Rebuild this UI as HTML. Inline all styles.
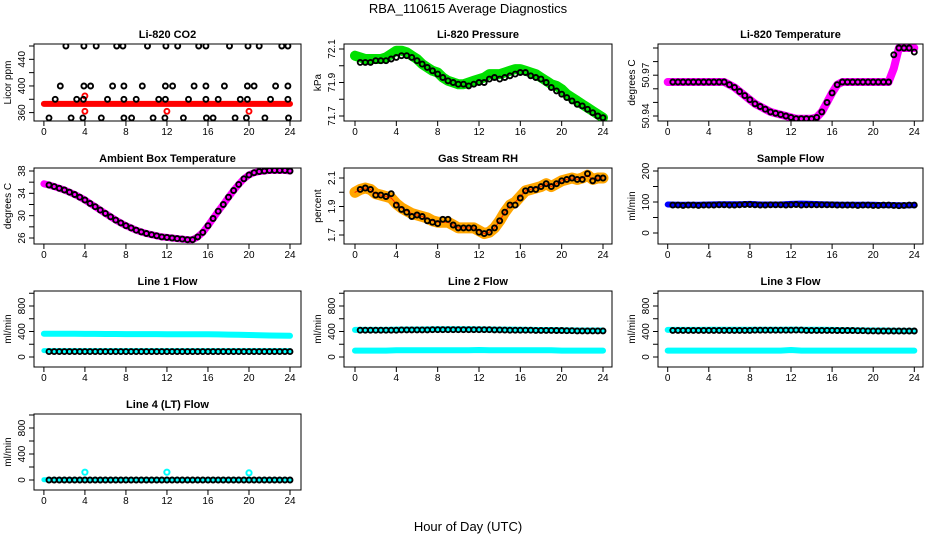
<!DOCTYPE html>
<html><head><meta charset="utf-8">
<style>
html,body{margin:0;padding:0;background:#fff;}
svg{display:block;font-family:"Liberation Sans",Arial,sans-serif;}
</style></head>
<body>
<svg id="chart" width="936" height="540" viewBox="0 0 936 540">
<text x="468" y="13" text-anchor="middle" font-size="13">RBA_110615  Average Diagnostics</text>
<text x="468" y="531" text-anchor="middle" font-size="13">Hour of Day (UTC)</text>
</svg>
<script>
// ---------- data ----------
const xTicks = [0,4,8,12,16,20,24];
const halfHours = [0.5,1,1.5,2,2.5,3,3.5,4,4.5,5,5.5,6,6.5,7,7.5,8,8.5,9,9.5,10,10.5,11,11.5,12,12.5,13,13.5,14,14.5,15,15.5,16,16.5,17,17.5,18,18.5,19,19.5,20,20.5,21,21.5,22,22.5,23,23.5,24];
const bandHours = [0,0.5,1,1.5,2,2.5,3,3.5,4,4.5,5,5.5,6,6.5,7,7.5,8,8.5,9,9.5,10,10.5,11,11.5,12,12.5,13,13.5,14,14.5,15,15.5,16,16.5,17,17.5,18,18.5,19,19.5,20,20.5,21,21.5,22,22.5,23,23.5,24];
const hourly = [0,1,2,3,4,5,6,7,8,9,10,11,12,13,14,15,16,17,18,19,20,21,22,23,24];

// CO2
const co2BandHours = [0,24];
const co2Band = [373,373];
const co2RedHours = [4,4,12,20];
const co2Red = [385,362,362,362];
const co2BlackHours = [2.15,3.9,5.1,7.1,7.7,10.1,11.9,13.05,15.1,15.8,18.1,19.9,21.0,23.2,23.8,
 1.6,3.9,4.55,6.7,7.8,9.6,11.85,12.55,14.65,15.8,17.6,19.85,20.5,22.6,23.8,
 1.1,3.2,3.85,6.2,7.8,9.0,11.2,11.85,14.1,15.8,17.0,19.15,19.85,22.1,23.8,
 0.5,2.65,3.8,5.6,7.8,8.55,10.65,11.8,13.6,15.85,16.5,18.65,19.75,21.55,23.85];
const co2Black = [460,460,460,460,460,460,460,460,460,460,460,460,460,460,460,
 400,400,400,400,400,400,400,400,400,400,400,400,400,400,400,
 380,380,380,380,380,380,380,380,380,380,380,380,380,380,380,
 352,352,352,352,352,352,352,352,352,352,352,352,352,352,352];
// Pressure
const presBand = [72.06,72.05,72.04,72.04,72.04,72.04,72.05,72.07,72.09,72.09,72.08,72.06,72.04,72.01,71.99,71.97,71.96,71.93,71.91,71.90,71.89,71.89,71.90,71.91,71.92,71.93,71.95,71.95,71.95,71.96,71.97,71.98,71.98,71.97,71.96,71.95,71.93,71.91,71.89,71.88,71.86,71.83,71.81,71.79,71.77,71.75,71.73,71.71,71.69];
const presBlack = [72.02,72.02,72.02,72.03,72.03,72.03,72.04,72.05,72.06,72.06,72.05,72.03,72.01,71.99,71.97,71.95,71.93,71.91,71.90,71.89,71.89,71.88,71.89,71.90,71.90,71.92,71.93,71.92,71.93,71.94,71.95,71.96,71.96,71.94,71.93,71.92,71.90,71.87,71.85,71.83,71.81,71.79,71.77,71.76,71.74,71.72,71.70,71.69];
// Li-820 temperature
const tempBand = [50.965,50.965,50.965,50.965,50.965,50.965,50.965,50.965,50.965,50.965,50.965,50.965,50.963,50.961,50.958,50.955,50.952,50.949,50.947,50.945,50.943,50.942,50.941,50.940,50.939,50.938,50.938,50.938,50.938,50.939,50.943,50.950,50.957,50.963,50.965,50.965,50.965,50.965,50.965,50.965,50.965,50.965,50.965,50.965,50.975,50.990,50.990,50.990,50.990];
const tempBlack = [50.965,50.965,50.965,50.965,50.965,50.965,50.965,50.965,50.965,50.965,50.965,50.963,50.961,50.958,50.955,50.952,50.949,50.947,50.945,50.943,50.942,50.941,50.940,50.939,50.938,50.938,50.938,50.938,50.939,50.943,50.950,50.957,50.963,50.965,50.965,50.965,50.965,50.965,50.965,50.965,50.965,50.965,50.965,50.985,50.990,50.990,50.990,50.987];
// Ambient box temperature
const ambBand = [35.7,35.5,35.2,34.9,34.6,34.2,33.8,33.3,32.8,32.2,31.6,31.0,30.4,29.8,29.2,28.7,28.2,27.8,27.4,27.1,26.8,26.6,26.4,26.2,26.1,26.0,25.9,25.8,25.7,25.7,26.2,27.0,28.2,29.5,30.8,32.0,33.3,34.5,35.6,36.6,37.3,37.7,37.9,38.0,38.1,38.1,38.1,38.1,38.0];
const ambBlack = [35.5,35.2,34.9,34.6,34.2,33.8,33.3,32.8,32.2,31.6,31.0,30.4,29.8,29.2,28.7,28.2,27.8,27.4,27.1,26.8,26.6,26.4,26.2,26.1,26.0,25.9,25.8,25.7,25.7,26.2,27.0,28.2,29.5,30.8,32.0,33.3,34.5,35.6,36.6,37.3,37.7,37.9,38.0,38.1,38.1,38.1,38.1,38.0];
// Gas stream RH
const rhBand = [2.00,2.02,2.03,2.02,1.99,1.98,1.97,1.96,1.92,1.89,1.87,1.85,1.84,1.83,1.82,1.80,1.79,1.79,1.79,1.77,1.75,1.75,1.75,1.75,1.73,1.71,1.72,1.75,1.80,1.86,1.91,1.93,1.97,2.01,2.02,2.03,2.04,2.06,2.04,2.06,2.08,2.09,2.10,2.09,2.10,2.12,2.09,2.10,2.10];
const rhBlack = [2.02,2.03,2.02,1.98,1.98,1.97,1.99,1.91,1.88,1.86,1.83,1.84,1.83,1.80,1.79,1.78,1.81,1.81,1.77,1.75,1.75,1.75,1.75,1.72,1.71,1.72,1.75,1.80,1.86,1.91,1.91,1.96,2.01,2.02,2.02,2.04,2.06,2.04,2.06,2.08,2.09,2.10,2.09,2.09,2.13,2.08,2.10,2.10];
// Sample flow
const sampleBand = [92,91,91,91,92,93,93,93,94,92,92,92,94,95,94,93,92,91,91,91,91,90,90,89,90];
const sampleBlack = [90,90,89,90,90,89,90,90,90,91,91,90,90,91,92,92,91,90,90,91,91,91,90,91,92,90,91,91,91,91,91,91,90,90,90,90,89,90,90,89,89,90,90,89,88,89,90,90];
// Line flows
const line1High = [365,365,364,364,362,362,361,361,360,360,360,359,358,358,358,357,357,355,352,350,345,340,338,335,332];
const line1Low = [100,100,100,100,100,100,100,100,100,100,100,100,100,100,100,100,100,100,100,100,100,100,100,100,100];
const line1Black = [85,85,85,85,85,85,85,85,85,85,85,85,85,85,85,85,85,85,85,85,85,85,85,85,85,85,85,85,85,85,85,85,85,85,85,85,85,85,85,85,85,85,85,85,85,85,85,85];
const line2High = [425,425,425,425,430,432,432,433,435,435,435,435,433,432,430,430,428,425,424,423,420,418,416,415,415];
const line2Low = [100,100,100,100,105,105,105,105,105,105,105,105,110,105,105,105,105,105,105,105,100,100,100,100,100];
const line2Black = [420,420,420,420,420,420,420,420,425,425,425,425,425,425,428,428,428,428,428,428,428,428,428,428,428,428,425,425,422,420,420,420,420,420,418,418,418,418,415,415,412,412,410,410,410,410,410,410];
const line3High = [425,425,425,425,428,428,428,428,428,428,428,428,430,428,428,428,425,422,420,418,415,415,412,410,410];
const line3Low = [100,100,100,100,100,100,100,100,100,100,100,100,110,100,100,100,100,100,100,100,100,100,100,100,100];
const line3Black = [418,418,418,418,418,418,418,418,418,418,418,418,418,418,418,418,420,420,420,420,420,420,420,420,422,422,418,418,418,418,418,418,415,415,415,415,412,412,410,410,408,408,408,408,408,408,408,408];
const line4Cyan = [5,5,5,5,5,5,5,5,5,5,5,5,5,5,0,0,5,5,5,5,5,5,5,5,5];
const line4OutHours = [4,12,20];
const line4Out = [120,120,110];
const line4Black = [0,0,0,0,0,0,0,0,0,0,0,0,0,0,0,0,0,0,0,0,0,0,0,0,0,0,0,0,0,0,0,0,0,0,0,0,0,0,0,0,0,0,0,0,0,0,0,0];

// ---------- layout ----------
const NS = "http://www.w3.org/2000/svg";
const svg = document.getElementById('chart');
const colBox = [[34,301,43.9,290],[344,612,355,603],[658,923,667.7,914.3]];
const rowBox = [[44,121],[168,244],[291,367],[414,490]];

function el(tag, attrs, parent){
  const e = document.createElementNS(NS, tag);
  for (const k in attrs) e.setAttribute(k, attrs[k]);
  (parent||svg).appendChild(e);
  return e;
}

function panel(cfg){
  const [bl,br,x0,x24] = colBox[cfg.col];
  const [bt,bb] = rowBox[cfg.row];
  const g = el('g',{});
  
  
  const xs = h => x0 + (x24-x0)*h/24;
  const [v1,p1,v2,p2] = cfg.yRef;
  const ys = v => p1 + (v - v1)*(p2-p1)/(v2-v1);
  const clipId = 'clip'+cfg.name;
  const cp = el('clipPath',{id:clipId},g);
  el('rect',{x:bl,y:bt,width:br-bl,height:bb-bt},cp);
  const plot = el('g',{'clip-path':'url(#'+clipId+')'},g);
  const api = {
    band(hours, vals, color, w, name){
      const pl = el('polyline',{points:hours.map((h,i)=>xs(h).toFixed(1)+','+ys(vals[i]).toFixed(1)).join(' '),fill:'none',stroke:color,'stroke-width':w,'stroke-linejoin':'round','stroke-linecap':'round'},plot);
      
      
    },
    pts(hours, vals, color, name, r, sw){
      const pg = el('g',{},plot);
      
      
      hours.forEach((h,i)=>{
        const c = el('circle',{cx:xs(h).toFixed(1),cy:ys(vals[i]).toFixed(1),r:r||2.5,fill:'none',stroke:color,'stroke-width':sw||1.9},pg);
        
        
      });
    }
  };
  cfg.draw(api);
  const box = el('rect',{x:bl,y:bt,width:br-bl,height:bb-bt,fill:'none',stroke:'#000','stroke-width':1},g);
  
  
  const t = el('text',{x:(bl+br)/2,y:bt-6,'text-anchor':'middle','font-size':11,'font-weight':'bold'},g);
  t.textContent = cfg.title;
  
  
  xTicks.forEach(v=>{
    const x = xs(v);
    el('line',{x1:x,y1:bb,x2:x,y2:bb+5,stroke:'#000','stroke-width':1},g);
    const tl = el('text',{x:x,y:bb+14,'text-anchor':'middle','font-size':10},g);
    tl.textContent = v;
    
    
  });
  cfg.yTicks.forEach(v=>{
    const y = ys(v);
    el('line',{x1:bl,y1:y,x2:bl-5,y2:y,stroke:'#000','stroke-width':1},g);
  });
  cfg.yLabels.forEach(v=>{
    const y = ys(v);
    const tl = el('text',{x:bl-9,y:y,'text-anchor':'middle','font-size':10,transform:'rotate(-90 '+(bl-9)+' '+y+')'},g);
    tl.textContent = v;
    
    
  });
  const yc = (bt+bb)/2;
  const yl = el('text',{x:bl-23,y:yc,'text-anchor':'middle','font-size':10,transform:'rotate(-90 '+(bl-23)+' '+yc+')'},g);
  yl.textContent = cfg.ylab;
  
  
}

panel({name:'co2-panel',col:0,row:0,title:'Li-820 CO2',ylab:'Licor ppm',yRef:[360,112.6,460,46],
  yTicks:[360,380,400,420,440,460],yLabels:[360,400,440],
  draw:a=>{a.band(co2BandHours,co2Band,'#ff0000',6,'co2-band');a.pts(co2RedHours,co2Red,'#ff0000','co2-red');a.pts(co2BlackHours,co2Black,'#000','co2-black');}});
panel({name:'pressure-panel',col:1,row:0,title:'Li-820 Pressure',ylab:'kPa',yRef:[71.7,116,72.1,49],
  yTicks:[71.7,71.8,71.9,72.0,72.1],yLabels:[71.7,71.9,72.1],
  draw:a=>{a.band(bandHours,presBand,'#00e000',10,'pressure-band');a.pts(halfHours,presBlack,'#000','pressure-black');}});
panel({name:'temperature-panel',col:2,row:0,title:'Li-820 Temperature',ylab:'degrees C',yRef:[50.94,116,50.99,48],
  yTicks:[50.94,50.95,50.96,50.97,50.98,50.99],yLabels:[50.94,50.97],
  draw:a=>{a.band(bandHours,tempBand,'#ff00ff',8,'temperature-band');a.pts(halfHours,tempBlack,'#000','temperature-black');}});
panel({name:'ambient-panel',col:0,row:1,title:'Ambient Box Temperature',ylab:'degrees C',yRef:[26,238,38,171],
  yTicks:[26,28,30,32,34,36,38],yLabels:[26,30,34,38],
  draw:a=>{a.band(bandHours,ambBand,'#ff00ff',7,'ambient-band');a.pts(halfHours,ambBlack,'#000','ambient-black');}});
panel({name:'rh-panel',col:1,row:1,title:'Gas Stream RH',ylab:'percent',yRef:[1.7,235,2.1,178],
  yTicks:[1.7,1.8,1.9,2.0,2.1],yLabels:[1.7,1.9,2.1],
  draw:a=>{a.band(bandHours,rhBand,'#ffa500',11,'rh-band');a.band(bandHours,rhBand,'#ff2000',1,'rh-band-speckle');a.pts(halfHours,rhBlack,'#000','rh-black');}});
panel({name:'sample-flow-panel',col:2,row:1,title:'Sample Flow',ylab:'ml/min',yRef:[0,233,200,171],
  yTicks:[0,50,100,150,200],yLabels:[0,100,200],
  draw:a=>{a.band(hourly,sampleBand,'#0000ff',6,'sample-band');a.pts(halfHours,sampleBlack,'#000','sample-black');}});
panel({name:'line1-panel',col:0,row:2,title:'Line 1 Flow',ylab:'ml/min',yRef:[0,357,800,306],
  yTicks:[0,200,400,600,800,1000],yLabels:[0,400,800],
  draw:a=>{a.band(hourly,line1High,'#00ffff',6,'line1-high');a.band(hourly,line1Low,'#00ffff',5,'line1-low');a.pts(halfHours,line1Black,'#000','line1-black');}});
panel({name:'line2-panel',col:1,row:2,title:'Line 2 Flow',ylab:'ml/min',yRef:[0,357,800,306],
  yTicks:[0,200,400,600,800,1000],yLabels:[0,400,800],
  draw:a=>{a.band(hourly,line2High,'#00ffff',6,'line2-high');a.band(hourly,line2Low,'#00ffff',6,'line2-low');a.pts(halfHours,line2Black,'#000','line2-black');}});
panel({name:'line3-panel',col:2,row:2,title:'Line 3 Flow',ylab:'ml/min',yRef:[0,357,800,306],
  yTicks:[0,200,400,600,800,1000],yLabels:[0,400,800],
  draw:a=>{a.band(hourly,line3High,'#00ffff',6,'line3-high');a.band(hourly,line3Low,'#00ffff',6,'line3-low');a.pts(halfHours,line3Black,'#000','line3-black');}});
panel({name:'line4-panel',col:0,row:3,title:'Line 4 (LT) Flow',ylab:'ml/min',yRef:[0,480,800,428],
  yTicks:[0,200,400,600,800,1000],yLabels:[0,400,800],
  draw:a=>{a.band(hourly,line4Cyan,'#00ffff',5,'line4-cyan');a.pts(line4OutHours,line4Out,'#00ffff','line4-outliers',2.6,2);a.pts(halfHours,line4Black,'#000','line4-black');}});
</script>
</body></html>
